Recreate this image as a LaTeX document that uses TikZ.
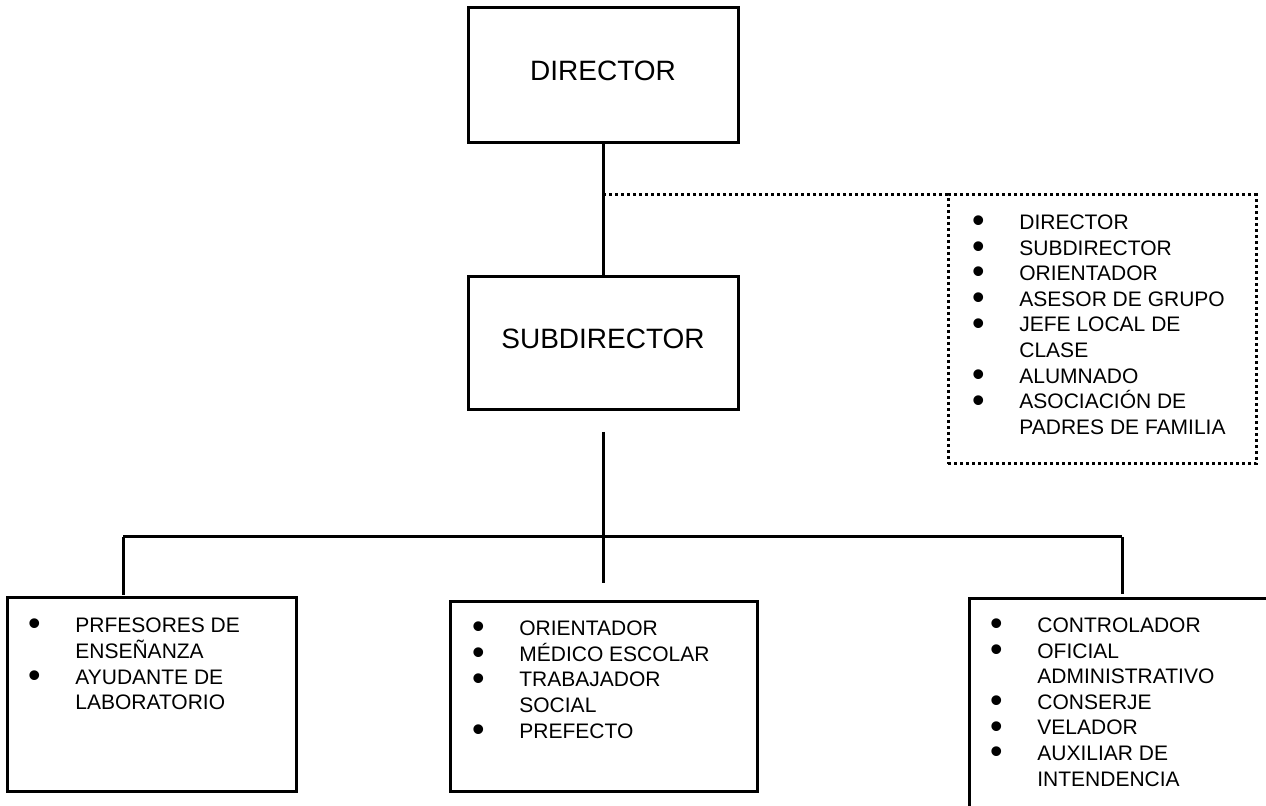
\documentclass[tikz,border=0pt]{standalone}
\usepackage{fontspec}
\setmainfont{Liberation Sans}
\newcommand\bul{\makebox[23pt][l]{\hspace*{-0.6pt}\smash{\raisebox{-1.6pt}{\scalebox{1.7}{\textbullet}}}}}
\newcommand\sinbul{\hspace*{23pt}}
\begin{document}
\begin{tikzpicture}[x=0.5pt,y=-0.5pt,
	caja/.style={draw,line width=1.5pt,inner sep=0pt,text depth=4.5pt,font=\fontsize{14}{16}\selectfont},
	linea/.style={line width=1.5pt},
	punteado/.style={line width=1.5pt,dash pattern=on 1.5pt off 1.5pt},
	lista/.style={anchor=base west,inner sep=0pt,font=\fontsize{10.5}{12.8}\selectfont}]
	\useasboundingbox (0,0) rectangle (1266,806);
	% cajas de arriba
	\node[caja,minimum width=135pt,minimum height=67.5pt] (dir) at (603,75.5) {DIRECTOR};
	\node[caja,minimum width=135pt,minimum height=66.5pt] (sub) at (603,343.5) {SUBDIRECTOR};
	\node[caja,punteado,minimum width=154pt,minimum height=134.5pt,text depth=0pt,outer sep=0pt] (consejo) at (1102,329.5) {};
	% cajas de abajo
	\node[caja,minimum width=144.5pt,minimum height=97pt,text depth=0pt] (izq) at (151.5,695) {};
	\node[caja,minimum width=153.5pt,minimum height=95pt,text depth=0pt] (cen) at (603.5,697) {};
	\coordinate (der1) at (969,806);
	\coordinate (der2) at (969,599);
	\coordinate (der3) at (1266,599);
	\draw[linea] (der1) -- (der2) -- (der3);
	% lineas
	\draw[linea] (dir.south) -- (sub.north);
	\coordinate (P) at (603,195);
	\draw[punteado] (P) -- (P -| consejo.west);
	\coordinate (s1) at (603,432);
	\coordinate (s2) at (603,583);
	\coordinate (hl) at (123,537);
	\coordinate (hr) at (1122,537);
	\coordinate (l1) at (123,595);
	\coordinate (r1) at (1122,594);
	\draw[linea] (s1) -- (s2);
	\draw[linea] (hl) -- (hr);
	\draw[linea] (hl) -- (l1);
	\draw[linea] (hr) -- (r1);
	% textos
	\node[lista] (t0) at (973,229.5) {\begin{tabular}[t]{@{}l@{}}
		\bul DIRECTOR\\ \bul SUBDIRECTOR\\ \bul ORIENTADOR\\ \bul ASESOR DE GRUPO\\
		\bul JEFE LOCAL DE\\ \sinbul CLASE\\ \bul ALUMNADO\\ \bul ASOCIACIÓN DE\\ \sinbul PADRES DE FAMILIA
	\end{tabular}};
	\node[lista] (t1) at (29,632.5) {\begin{tabular}[t]{@{}l@{}}
		\bul PRFESORES DE\\ \sinbul ENSEÑANZA\\ \bul AYUDANTE DE\\ \sinbul LABORATORIO
	\end{tabular}};
	\node[lista] (t2) at (473,635.5) {\begin{tabular}[t]{@{}l@{}}
		\bul ORIENTADOR\\ \bul MÉDICO ESCOLAR\\ \bul TRABAJADOR\\ \sinbul SOCIAL\\ \bul PREFECTO
	\end{tabular}};
	\node[lista] (t3) at (991,632.5) {\begin{tabular}[t]{@{}l@{}}
		\bul CONTROLADOR\\ \bul OFICIAL\\ \sinbul ADMINISTRATIVO\\ \bul CONSERJE\\ \bul VELADOR\\
		\bul AUXILIAR DE\\ \sinbul INTENDENCIA
	\end{tabular}};
\end{tikzpicture}
\end{document}
